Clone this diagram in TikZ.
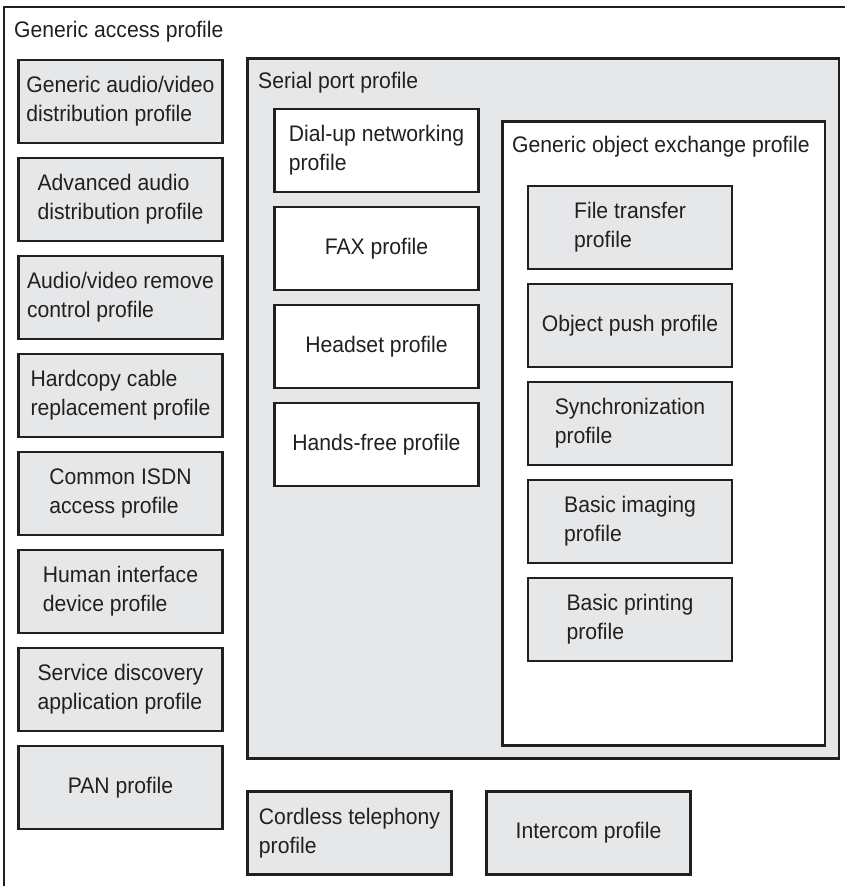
\documentclass[tikz,border=0pt]{standalone}
\usepackage{fontspec}
\setmainfont{Liberation Sans}[FakeStretch=0.94]
\usepackage{xcolor}
\usetikzlibrary{positioning}

\definecolor{inkline}{HTML}{231F20}
\definecolor{boxgray}{HTML}{E6E7E8}

\tikzset{
  profile/.style={draw=inkline, line width=2.5pt, fill=boxgray, text=inkline,
                  minimum width=204pt, minimum height=83pt, align=left, inner sep=4pt},
  plainprofile/.style={profile, fill=white},
  groupbox/.style={draw=inkline, line width=2.5pt},
  grouplabel/.style={anchor=base west, inner sep=0pt, text=inkline}
}

\begin{document}
\begin{tikzpicture}[x=1pt, y=-1pt, font=\fontsize{22.5}{29}\selectfont]
  \useasboundingbox (0,0) rectangle (845,886);
  \clip (0,0) rectangle (845,886);

  % outer frame (runs past the page edges)
  \draw[groupbox] (4,7) rectangle (880,920);
  \node[grouplabel] (gap) at (14,37) {Generic access profile};

  % left column
  \node[profile] (avdist) at (120.5,101.5) {Generic audio/video\\distribution profile};
  \node[profile] (a2dp)   at (120.5,199.5) {Advanced audio\\distribution profile};
  \node[profile] (avrcp)  at (120.5,297.5) {Audio/video remove\\control profile};
  \node[profile] (hcrp)   at (120.5,395.5) {Hardcopy cable\\replacement profile};
  \node[profile] (cip)    at (120.5,493.5) {Common ISDN\\access profile};
  \node[profile] (hid)    at (120.5,591.5) {Human interface\\device profile};
  \node[profile] (sdap)   at (120.5,689.5) {Service discovery\\application profile};
  \node[profile] (pan)    at (120.5,787.5) {PAN profile};

  % serial port profile
  \draw[groupbox, fill=boxgray] (247.5,58.5) rectangle (839,758.5);
  \node[grouplabel] (spp) at (258,88) {Serial port profile};
  \node[plainprofile] (dun)   at (376.5,150.5) {Dial-up networking\\profile};
  \node[plainprofile] (fax)   at (376.5,248.5) {FAX profile};
  \node[plainprofile] (hsp)   at (376.5,346.5) {Headset profile};
  \node[plainprofile] (hfp)   at (376.5,444.5) {Hands-free profile};

  % generic object exchange profile
  \draw[groupbox, fill=white] (502.5,121.5) rectangle (825,745.5);
  \node[grouplabel] (goep) at (512,152) {Generic object exchange profile};
  \node[profile] (ftp)  at (630,227.5) {File transfer\\profile};
  \node[profile] (opp)  at (630,325.5) {Object push profile};
  \node[profile] (sync) at (630,423.5) {Synchronization\\profile};
  \node[profile] (bip)  at (630,521.5) {Basic imaging\\profile};
  \node[profile] (bpp)  at (630,619.5) {Basic printing\\profile};

  % bottom row
  \node[profile] (ctp)   at (349.5,833) {Cordless telephony\\profile};
  \node[profile] (icp)   at (588.5,833) {Intercom profile};
\end{tikzpicture}
\end{document}
